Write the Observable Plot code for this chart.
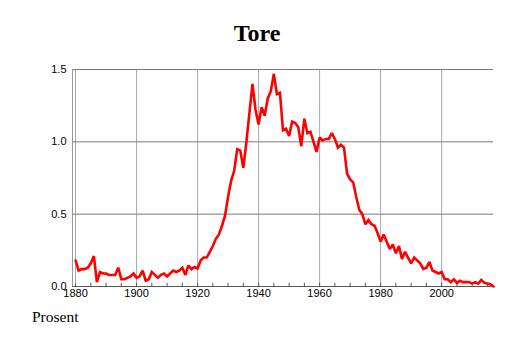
<!DOCTYPE html>
<html>
<head>
<meta charset="utf-8">
<script src="https://cdn.jsdelivr.net/npm/d3@7"></script>
<script src="https://cdn.jsdelivr.net/npm/@observablehq/plot@0.6"></script>
<style>
  html, body { margin: 0; padding: 0; background: #fff; }
  body { position: relative; width: 514px; height: 343px; overflow: hidden; }
  #title { position: absolute; left: 0; top: 18px; width: 514px; text-align: center;
           font: bold 24px "Liberation Serif", "Times New Roman", serif; line-height: 30px; color: #000; }
  #chart { position: absolute; left: 0; top: 50px; }
  #caption { position: absolute; left: 32px; top: 308px; font: 15.5px "Liberation Serif", serif; line-height: 18px; color: #000; }
</style>
</head>
<body>
<div id="title">Tore</div>
<div id="chart"></div>
<div id="caption">Prosent</div>
<script>
const startYear = 1880;
const values = [
  0.18, 0.11, 0.12, 0.12, 0.13, 0.16, 0.21, 0.03, 0.10, 0.09, // 1880-1889
  0.09, 0.08, 0.08, 0.08, 0.13, 0.05, 0.05, 0.06, 0.07, 0.09, // 1890-1899
  0.06, 0.07, 0.11, 0.04, 0.05, 0.10, 0.08, 0.06, 0.08, 0.09, // 1900-1909
  0.07, 0.09, 0.11, 0.10, 0.11, 0.13, 0.08, 0.145, 0.12, 0.135, // 1910-1919
  0.125, 0.18, 0.20, 0.20, 0.24, 0.28, 0.33, 0.36, 0.42, 0.49, // 1920-1929
  0.62, 0.73, 0.80, 0.95, 0.94, 0.82, 1.00, 1.20, 1.40, 1.22, // 1930-1939
  1.12, 1.24, 1.18, 1.30, 1.35, 1.47, 1.33, 1.34, 1.08, 1.09, // 1940-1949
  1.04, 1.14, 1.13, 1.10, 0.97, 1.16, 1.06, 1.07, 1.00, 0.93, // 1950-1959
  1.03, 1.01, 1.02, 1.02, 1.06, 1.02, 0.96, 0.98, 0.96, 0.78, // 1960-1969
  0.74, 0.72, 0.62, 0.53, 0.50, 0.43, 0.46, 0.43, 0.42, 0.37, // 1970-1979
  0.31, 0.36, 0.31, 0.26, 0.29, 0.23, 0.28, 0.19, 0.24, 0.20, // 1980-1989
  0.16, 0.20, 0.18, 0.16, 0.12, 0.13, 0.17, 0.11, 0.10, 0.09, // 1990-1999
  0.10, 0.05, 0.05, 0.03, 0.05, 0.025, 0.04, 0.03, 0.03, 0.03, // 2000-2009
  0.02, 0.03, 0.02, 0.045, 0.025, 0.02, 0.015, 0.0            // 2010-2017
];
const xTicks = [1880, 1900, 1920, 1940, 1960, 1980, 2000];
const yTicks = [0, 0.5, 1.0, 1.5];
const minorTicks = d3.range(1880, 2017, 5);

const data = values.map((v, i) => ({year: startYear + i, value: v}));

const chart = Plot.plot({
  width: 514,
  height: 260,
  marginLeft: 72,
  marginRight: 21,
  marginTop: 19,
  marginBottom: 24,
  style: {fontFamily: "'Liberation Sans', Arial, sans-serif", fontSize: "11px", background: "#fff", color: "#000"},
  x: {domain: [1879, 2017]},
  y: {domain: [0, 1.5]},
  marks: [
    Plot.gridX(xTicks, {stroke: "#a8a8a8", strokeOpacity: 1, strokeWidth: 1}),
    Plot.gridY(yTicks.filter(d => d > 0), {stroke: "#7a7a7a", strokeOpacity: 1, strokeWidth: 1}),
    Plot.ruleX([1879], {stroke: "#999", strokeWidth: 1}),
    Plot.ruleX(minorTicks, {y1: 0, y2: 0.022, stroke: "#555", strokeWidth: 1}),
    Plot.ruleY([0], {stroke: "#555", strokeWidth: 1.2}),
    Plot.axisX(xTicks, {tickSize: 0, tickPadding: 3, tickFormat: d => String(d), label: null, fontSize: 11}),
    Plot.axisY(yTicks, {tickSize: 0, tickPadding: 6, tickFormat: d3.format(".1f"), label: null, fontSize: 11}),
    Plot.line(data, {x: "year", y: "value", stroke: "#ff0000", strokeWidth: 2.6, strokeLinejoin: "miter", strokeMiterlimit: 2})
  ]
});
document.getElementById("chart").appendChild(chart);
</script>
</body>
</html>
